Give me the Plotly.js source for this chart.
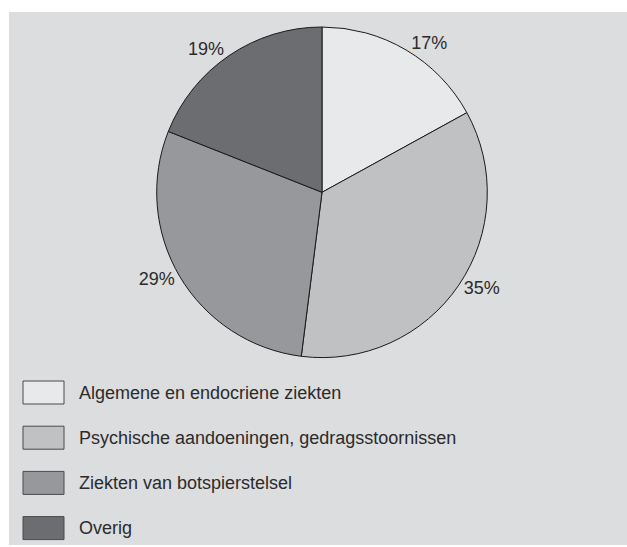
<!DOCTYPE html>
<html>
<head>
<meta charset="utf-8">
<script src="https://cdn.plot.ly/plotly-3.0.1.min.js"></script>
<style>
  html, body { margin: 0; padding: 0; background: #ffffff; width: 627px; height: 547px; overflow: hidden; }
  #chart { position: absolute; left: 9px; top: 12px; width: 618px; height: 533px; }
</style>
</head>
<body>
<div id="chart"></div>
<script>
const categories = [
  "Algemene en endocriene ziekten",
  "Psychische aandoeningen, gedragsstoornissen",
  "Ziekten van botspierstelsel",
  "Overig"
];
const values = [17, 35, 29, 19];
const colors = ["#e8e9ea", "#c0c1c3", "#97989b", "#6c6d70"];

const W = 618, H = 533;
const FONT = "Liberation Sans, Arial, Helvetica, sans-serif";
const TEXTCOL = "#2b2b2b";

const trace = {
  type: "pie",
  labels: categories,
  values: values,
  sort: false,
  direction: "clockwise",
  rotation: 0,
  marker: { colors: colors, line: { color: "#1a1a1a", width: 1 } },
  texttemplate: "%{value}%",
  textposition: "outside",
  textfont: { family: FONT, size: 18, color: TEXTCOL },
  hoverinfo: "none",
  showlegend: false,
  domain: { x: [(313 - 165.3) / W, (313 + 165.3) / W], y: [1 - 345.6 / H, 1 - 15 / H] }
};

// legend built from the category/colour arrays
const shapes = [];
const annotations = [];
const rowTop = 380.5, rowGap = 45.2;
categories.forEach((c, i) => {
  const yc = rowTop + i * rowGap;
  shapes.push({
    type: "rect", xref: "paper", yref: "paper",
    x0: 14 / W, x1: 55 / W,
    y0: 1 - (yc + 11.5) / H, y1: 1 - (yc - 11.5) / H,
    fillcolor: colors[i], line: { color: "#4a4a4a", width: 1 }
  });
  annotations.push({
    xref: "paper", yref: "paper", x: 68 / W, y: 1 - yc / H,
    xanchor: "left", yanchor: "middle", showarrow: false,
    text: c, font: { family: FONT, size: 18, color: TEXTCOL }
  });
});

const layout = {
  width: W, height: H,
  margin: { l: 0, r: 0, t: 0, b: 0 },
  paper_bgcolor: "#dcdddf",
  plot_bgcolor: "#dcdddf",
  showlegend: false,
  shapes: shapes,
  annotations: annotations,
  font: { family: FONT, color: TEXTCOL }
};

Plotly.newPlot("chart", [trace], layout, { staticPlot: true, displayModeBar: false });
</script>
</body>
</html>
